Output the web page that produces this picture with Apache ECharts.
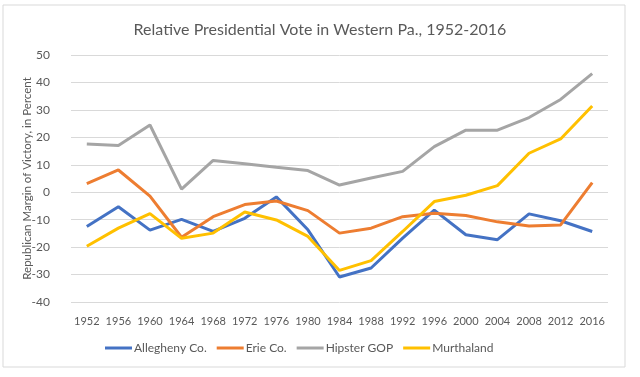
<!DOCTYPE html>
<html>
<head>
<meta charset="utf-8">
<script src="https://cdn.jsdelivr.net/npm/echarts@6/dist/echarts.min.js"></script>
<style>
    html, body { margin: 0; padding: 0; background: #fff; }
    #chart { width: 640px; height: 377px; }
</style>
</head>
<body>
<div id="chart"></div>
<script>
    const years = ['1952', '1956', '1960', '1964', '1968', '1972', '1976', '1980', '1984',
        '1988', '1992', '1996', '2000', '2004', '2008', '2012', '2016']
    const allegheny = [-12.5, -5.3, -13.8, -9.9, -14.3, -9.5, -1.7, -13.7, -30.9,
        -27.6, -16.7, -6.5, -15.5, -17.3, -7.9, -10.4, -14.3]
    const erie = [3.1, 8.1, -1.4, -16.4, -8.9, -4.5, -3.2, -6.7, -14.9,
        -13.1, -8.9, -7.7, -8.5, -10.8, -12.3, -11.9, 3.5]
    const hipster = [17.6, 17.0, 24.5, 1.1, 11.6, 10.4, 9.1, 7.9, 2.6,
        5.2, 7.6, 16.6, 22.6, 22.6, 27.2, 33.8, 43.2]
    const murthaland = [-19.7, -13.1, -7.8, -16.8, -14.9, -7.2, -10.1, -16.1, -28.5,
        -24.9, -14.3, -3.4, -1.1, 2.4, 14.2, 19.4, 31.4]

    const font = 'Lato, "Open Sans", sans-serif'
    const chart = echarts.init(document.getElementById('chart'))

    function line (name, data, color) {
        return {
            name: name,
            type: 'line',
            data: data,
            symbol: 'none',
            color: color,
            lineStyle: { color: color, width: 3 }
        }
    }

    chart.setOption({
        animation: false,
        textStyle: { fontFamily: font, color: '#595959' },
        graphic: [{
            type: 'rect',
            shape: { x: 3, y: 5, width: 622, height: 362 },
            style: { fill: 'none', stroke: '#d9d9d9', lineWidth: 1 }
        }],
        title: {
            text: 'Relative Presidential Vote in Western Pa., 1952-2016',
            left: 'center',
            top: 17,
            textStyle: { fontFamily: font, fontSize: 16, fontWeight: 'normal', color: '#595959' }
        },
        legend: {
            bottom: 18,
            left: 100,
            itemWidth: 27,
            itemHeight: 3,
            itemGap: 10,
            icon: 'rect',
            textStyle: { fontFamily: font, fontSize: 12, color: '#595959', padding: [0, 0, 0, -3] },
            data: ['Allegheny Co.', 'Erie Co.', 'Hipster GOP', 'Murthaland']
        },
        grid: {
            left: 71,
            right: 32,
            top: 55,
            bottom: 75
        },
        xAxis: {
            type: 'category',
            data: years,
            boundaryGap: true,
            axisLine: { show: false },
            axisTick: { show: false },
            axisLabel: { fontFamily: font, fontSize: 11, color: '#595959', margin: 14, interval: 0 }
        },
        yAxis: {
            type: 'value',
            min: -40,
            max: 50,
            interval: 10,
            name: 'Republican Margin of Victory, in Percent',
            nameLocation: 'middle',
            nameGap: 38,
            nameMoveOverlap: false,
            nameTextStyle: { fontFamily: font, fontSize: 11.5, color: '#595959' },
            axisLine: { show: false },
            axisTick: { show: false },
            axisLabel: { fontFamily: font, fontSize: 12, color: '#595959', margin: 21 },
            splitLine: { lineStyle: { color: '#d9d9d9', width: 1 } }
        },
        series: [
            line('Allegheny Co.', allegheny, '#4472c4'),
            line('Erie Co.', erie, '#ed7d31'),
            line('Hipster GOP', hipster, '#a5a5a5'),
            line('Murthaland', murthaland, '#ffc000')
        ]
    })
</script>
</body>
</html>
